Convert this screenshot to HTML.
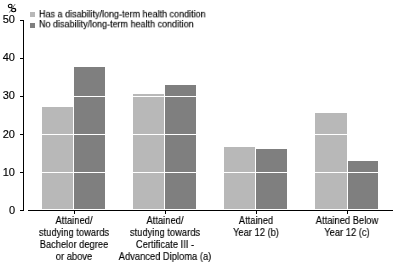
<!DOCTYPE html>
<html><head><meta charset="utf-8"><style>
html,body{margin:0;padding:0;background:#fff;}
body{width:397px;height:265px;position:relative;overflow:hidden;font-family:"Liberation Sans",sans-serif;color:#000;}
div{position:absolute;}
span{will-change:transform;-webkit-text-stroke:0.15px #000;}
.yl{position:absolute;font-size:11px;line-height:12px;text-align:right;width:30px;left:-15px;white-space:nowrap;}
.lg{position:absolute;font-size:10px;line-height:10px;white-space:nowrap;left:39px;transform:scale(0.9,0.92);transform-origin:0 0;}
.cl{position:absolute;font-size:11px;line-height:12px;text-align:center;width:200px;white-space:nowrap;transform:scaleX(0.85);transform-origin:50% 0;}
</style></head><body>
<div style="left:42px;top:107px;width:31px;height:102px;background:#b8b8b8;"></div>
<div style="left:74px;top:67px;width:31px;height:142px;background:#7f7f7f;"></div>
<div style="left:133px;top:94px;width:31px;height:115px;background:#b8b8b8;"></div>
<div style="left:165px;top:85px;width:31px;height:124px;background:#7f7f7f;"></div>
<div style="left:224px;top:147px;width:31px;height:62px;background:#b8b8b8;"></div>
<div style="left:256px;top:149px;width:31px;height:60px;background:#7f7f7f;"></div>
<div style="left:315px;top:113px;width:32px;height:96px;background:#b8b8b8;"></div>
<div style="left:348px;top:161px;width:30px;height:48px;background:#7f7f7f;"></div>
<div style="left:28px;top:172px;width:365px;height:1px;background:#fff;"></div>
<div style="left:28px;top:134px;width:365px;height:1px;background:#fff;"></div>
<div style="left:28px;top:96px;width:365px;height:1px;background:#fff;"></div>
<div style="left:28px;top:58px;width:365px;height:1px;background:#fff;"></div>
<div style="left:23px;top:20px;width:1px;height:191px;background:#000;"></div>
<div style="left:20px;top:210px;width:3px;height:1px;background:#000;"></div>
<div style="left:20px;top:172px;width:3px;height:1px;background:#000;"></div>
<div style="left:20px;top:134px;width:3px;height:1px;background:#000;"></div>
<div style="left:20px;top:96px;width:3px;height:1px;background:#000;"></div>
<div style="left:20px;top:58px;width:3px;height:1px;background:#000;"></div>
<div style="left:20px;top:20px;width:3px;height:1px;background:#000;"></div>
<div style="left:28px;top:210px;width:365px;height:1px;background:#000;"></div>
<div style="left:74px;top:211px;width:1px;height:3px;background:#000;"></div>
<div style="left:165px;top:211px;width:1px;height:3px;background:#000;"></div>
<div style="left:256px;top:211px;width:1px;height:3px;background:#000;"></div>
<div style="left:347px;top:211px;width:1px;height:3px;background:#000;"></div>
<span class="yl" style="top:204px">0</span>
<span class="yl" style="top:166px">10</span>
<span class="yl" style="top:128px">20</span>
<span class="yl" style="top:89px">30</span>
<span class="yl" style="top:51px">40</span>
<span class="yl" style="top:13px">50</span>
<svg style="position:absolute;left:0;top:0" width="20" height="14" viewBox="0 0 20 14"><ellipse cx="10.2" cy="6.0" rx="1.9" ry="1.7" fill="none" stroke="#000" stroke-width="1.1"/><ellipse cx="13.6" cy="10.1" rx="2.1" ry="1.7" fill="none" stroke="#000" stroke-width="1.1"/><path d="M9.3 12.6 L15.2 4" stroke="#555" stroke-width="0.8"/></svg>
<div style="left:30px;top:12px;width:5px;height:5px;background:#b8b8b8"></div>
<div style="left:30px;top:23px;width:5px;height:5px;background:#7f7f7f"></div>
<span class="lg" style="top:10px">Has a disability/long-term health condition</span>
<span class="lg" style="top:20px">No disability/long-term health condition</span>
<span class="cl" style="left:-26px;top:214px">Attained/<br>studying towards<br>Bachelor degree<br>or above</span>
<span class="cl" style="left:65px;top:214px">Attained/<br>studying towards<br>Certificate III -<br>Advanced Diploma (a)</span>
<span class="cl" style="left:156px;top:214px">Attained<br>Year 12 (b)</span>
<span class="cl" style="left:247px;top:214px">Attained Below<br>Year 12 (c)</span>
</body></html>
